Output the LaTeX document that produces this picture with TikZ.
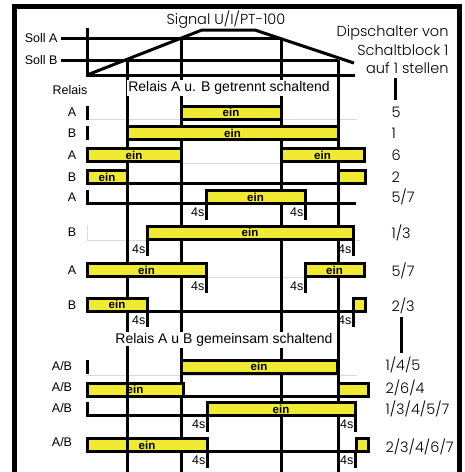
\documentclass[tikz,border=0pt]{standalone}
\usepackage{fontspec}
\setmainfont{Liberation Sans}
\newfontfamily\gothic{Poppins Light}
\usetikzlibrary{positioning}

\definecolor{relaisgelb}{RGB}{240,234,50}

\tikzset{
  rahmen/.style={line width=5pt},
  kurve/.style={line width=3pt},
  onbar/.style={draw, line width=3pt, fill=relaisgelb, inner sep=0pt,
    font=\bfseries\fontsize{11.5}{11.5}\selectfont},
  hilfs/.style={black!15, line width=0.8pt},
  lbl/.style={font=\fontsize{12.5}{12.5}\selectfont},
  dip/.style={font=\gothic\fontsize{14.5}{14.5}\selectfont, anchor=west},
  verz/.style={font=\fontsize{12.5}{12.5}\selectfont, inner sep=0.5pt},
  titel/.style={fill=white, inner sep=1pt, font=\fontsize{14}{14}\selectfont},
}

\begin{document}
\begin{tikzpicture}[x=1pt,y=-1pt]
    \useasboundingbox (0,0) rectangle (464,472);

    % Rahmen
    \draw[rahmen] (14.5,472) -- (14.5,6) -- (459,6) -- (459,472);

    % Signal und Sollwerte
    \node[font=\gothic\fontsize{14.5}{14.5}\selectfont] (signal-txt) at (226,20) {Signal U/I/PT-100};
    \node[lbl, anchor=east] (sollA) at (61,38) {Soll A};
    \node[lbl, anchor=east] (sollB) at (61,60) {Soll B};
    \draw[kurve] (sollA.east) -- (281,38);
    \draw[kurve] (sollB.east) -- (338,60);
    \draw[kurve] (87,28) -- (87,75) -- (355,75);
    \draw[kurve, line join=round] (87,75) -- (202,30) -- (255,30) -- (354,63);

    % Dipschalter
    \node[dip, anchor=east] (dip-a) at (452,33) {Dipschalter von};
    \node[dip, anchor=east] (dip-b) at (452,50) {Schaltblock 1};
    \node[dip, anchor=east] (dip-c) at (452,68) {auf 1 stellen};
    \draw[kurve] (395,78) -- (395,100);
    \draw[kurve] (401,317) -- (401,353);

    % Hilfslinien
    \foreach \xa/\xb/\y in {87/357/119, 181/281/163, 87/147/240, 353/360/240, 206/305/277, 87/357/375} {
        \draw[hilfs] (\xa,\y) -- (\xb,\y);
    }
    \draw[hilfs] (87,225) -- (87,240);

    % Zeitlinien
    \foreach \x/\y in {127/60, 181/38, 281/38, 338/60} {
        \draw[kurve] (\x,\y) -- (\x,472);
    }

    % Relais, getrennt
    \node[lbl] (relais) at (70,90) {Relais};
    \node[titel] (getrennt) at (229,88) {Relais A u. B getrennt schaltend};
    \foreach \y/\r [count=\i] in {112.5/A, 133/B, 155/A, 177/B, 197/A, 232.5/B, 270/A, 305/B} {
        \node[lbl] (rel-\i) at (72,\y) {\r};
    }
    \foreach \y/\d [count=\i] in {112.5/5, 133/1, 155/6, 177/2, 197/5\slash 7, 232.5/1\slash 3, 271/5\slash 7, 306/2\slash 3} {
        \node[dip] (dip-\i) at (388,\y) {\d};
    }

    % Relais, gemeinsam
    \node[titel] (gemeinsam) at (224,340) {Relais A u B gemeinsam schaltend};
    \foreach \y/\z/\d [count=\i] in {366/365/1\slash 4\slash 5, 387/388/2\slash 6\slash 4,
        408/409/1\slash 3\slash 4\slash 5\slash 7, 442/447/2\slash 3\slash 4\slash 6\slash 7} {
        \node[lbl] (ab-\i) at (62,\y) {A/B};
        \node[dip] (dipab-\i) at (382,\z) {\d};
    }

    % Ruhelinien
    \foreach \y in {112.5, 133, 366.5} {
        \draw[kurve] (87,\y-7) -- (87,\y+7);
    }
    \draw[kurve] (87,190) -- (87,203.5) -- (206,203.5);
    \draw[kurve] (305,203.5) -- (356,203.5);
    \draw[kurve] (127,183.5) -- (338,183.5);
    \draw[kurve] (147,311) -- (353,311);
    \draw[kurve] (183,396) -- (338,396);
    \draw[kurve] (87,402) -- (87,415.5) -- (207,415.5);
    \draw[kurve] (207,451.5) -- (355,451.5);

    % Schaltzustaende
    \foreach \xa/\xb/\y/\t [count=\i] in {181/281/112.5/ein, 127/338/133/ein,
        87/181/155/ein, 281/364/155/ein, 87/127/177/ein, 338/365/177/{},
        206/305/197/ein, 147/353/232.5/ein, 87/206/270/ein, 305/364/270/ein,
        87/147/304.5/ein, 353/365/304.5/{}, 181/337/366.5/ein, 87/183/389.5/ein,
        338/368/389.5/{}, 207/355/409/ein, 87/207/445/ein, 356/368/445/{}} {
        \draw[onbar] (\xa,\y-6.5) rectangle (\xb,\y+6.5) node[midway] (bar-\i) {\t};
    }
    \draw[kurve] (127,346) -- (127,472);

    % Verzoegerung 4s
    \foreach \x/\y [count=\i] in {206/203.5, 305/203.5, 147/240, 353/240, 206/277, 305/277,
        147/311, 353/311, 207/415.5, 355/415.5, 207/451.5, 355/451.5} {
        \draw[kurve] (\x,\y) -- (\x,\y+16) coordinate[pos=0.55] (vz-\i);
        \node[verz, left=1pt of vz-\i] (vzt-\i) {4s};
    }
\end{tikzpicture}
\end{document}
